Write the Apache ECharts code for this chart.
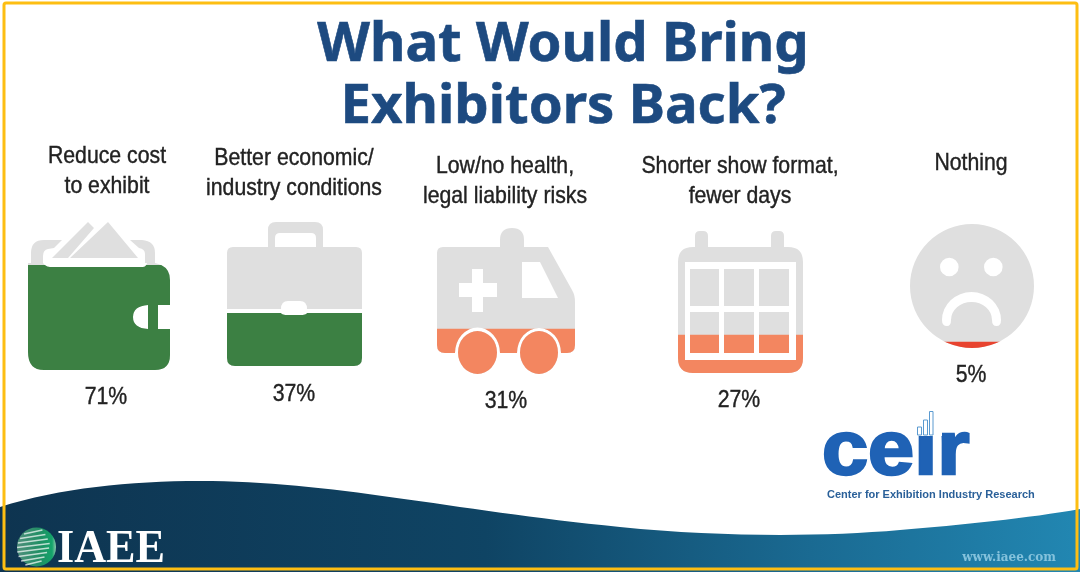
<!DOCTYPE html>
<html>
<head>
<meta charset="utf-8">
<style>html,body{margin:0;padding:0;background:#fff}#c{width:1080px;height:572px}</style>
<script src="https://cdn.jsdelivr.net/npm/echarts@6/dist/echarts.min.js"></script>
</head>
<body>
<div id="c"></div>
<script>
const headline = "What Would Bring\nExhibitors Back?";
const categories = ["Reduce cost\nto exhibit", "Better economic/\nindustry conditions", "Low/no health,\nlegal liability risks", "Shorter show format,\nfewer days", "Nothing"];
const values = [71, 37, 31, 27, 5];
const fillColors = ["#3c8043", "#3c8043", "#f38660", "#f38660", "#e8432f"];

// icon bounding boxes in the page: left, top, width, height
const boxes = [[28, 222, 142, 148], [227, 222, 135, 144], [437, 228, 138, 146], [678, 231, 125, 142], [910, 224, 124, 124]];
// centre x / middle y of the wrapped label, and of the percentage
const labelPos = [[107, 171], [294, 173], [505, 181], [740, 181], [971, 163]];
const pctPos = [[106, 397], [294, 394], [506, 401], [739, 400], [971, 375]];

const icons = [
  // wallet
  "M28 263L43 263Q46 267 50 267L143 267Q146 267 147 263L155 263Q170 266 170 280L170 305L158 305L158 329L170 329L170 355Q170 370 155 370L44 370Q28 370 28 352Z" +
  "M148 305Q133 306 133 317Q133 328 148 329Z" +
  "M31 263L31 253Q31 240 44 240L62 240L54 248L48 249Q43 250 43 256L43 263Z" +
  "M130 240L142 240Q155 241 155 253L155 263L145 263L145 254Q145 249 139 248Z" +
  "M52 258L88 222L94 228L68 258Z" +
  "M108 222L138 258L70 258Z",
  // briefcase
  "M233 247L268 247L268 230Q268 222 276 222L315 222Q323 222 323 230L323 247L356 247Q362 247 362 253L362 309L307 309Q307 301 300 301L288 301Q281 301 281 309L227 309L227 253Q227 247 233 247Z" +
  "M275 247L316 247L316 238Q316 233 311 233L280 233Q275 233 275 238Z" +
  "M227 313L281 313Q282 315 288 315L300 315Q306 315 307 313L362 313L362 358Q362 366 354 366L235 366Q227 366 227 358Z",
  // ambulance
  "M443 247L500 247L500 240Q500 228 512 228Q524 228 524 240L524 247L548 247L572 290Q575 295 575 302L575 345Q575 353 567 353L561 353A22 25 0 0 0 517 353L500 353A22 25 0 0 0 455 353L445 353Q437 353 437 345L437 253Q437 247 443 247Z" +
  "M522 262L522 298L558 298L540 262Z" +
  "M472 269L472 283L459 283L459 297L472 297L472 312L483 312L483 297L497 297L497 283L483 283L483 269Z" +
  "M458 352.5A19.5 21.5 0 0 1 497 352.5A19.5 21.5 0 0 1 458 352.5Z" +
  "M520 352.5A19 21.5 0 0 1 558 352.5A19 21.5 0 0 1 520 352.5Z",
  // calendar
  "M693 247L695 247L695 236Q695 231 700 231L703 231Q708 231 708 236L708 247L771 247L771 236Q771 231 776 231L779 231Q784 231 784 236L784 247L788 247Q803 247 803 262L803 358Q803 373 788 373L693 373Q678 373 678 358L678 262Q678 247 693 247Z" +
  "M685 262L685 360L796 360L796 262Z" +
  "M690 269L719 269L719 306L690 306Z M724 269L754 269L754 306L724 306Z M759 269L789 269L789 306L759 306Z" +
  "M690 312L719 312L719 353L690 353Z M724 312L754 312L754 353L724 353Z M759 312L789 312L789 353L759 353Z",
  // sad face
  "M910 286A62 62 0 0 1 1034 286A62 62 0 0 1 910 286Z" +
  "M940 267A9.3 9.3 0 0 0 958.6 267A9.3 9.3 0 0 0 940 267Z" +
  "M984 267A9.3 9.3 0 0 0 1002.6 267A9.3 9.3 0 0 0 984 267Z" +
  "M1001 320A29.5 28 0 0 0 942 320Q942 326 947 326Q951 326 951 320A20.5 18 0 0 1 992 320Q992 326 996.5 326Q1001 326 1001 320Z"
];

echarts.graphic.registerShape("wave", echarts.graphic.extendPath(
  "M0 507C60 488 130 481 200 481C330 481 450 510 620 527C720 537 820 537 900 530C960 525 1030 518 1080 509L1080 572L0 572Z",
  {}
));

const sans = '"Liberation Sans",sans-serif';
const grids = [], xAxes = [], yAxes = [], series = [];
const textEls = [];
const squeeze = 0.885;

categories.forEach((name, i) => {
  const b = boxes[i];
  grids.push({ left: b[0], top: b[1], width: b[2], height: b[3] });
  xAxes.push({ gridIndex: i, type: "category", data: [name], show: false });
  yAxes.push({ gridIndex: i, type: "value", min: 0, max: 100, show: false });
  textEls.push({
    type: "text", z: 10, x: labelPos[i][0], y: labelPos[i][1], scaleX: squeeze,
    style: { text: name, x: 0, y: 0, textAlign: "center", textVerticalAlign: "middle", fontFamily: sans, fontSize: 24, lineHeight: 30, fill: "#222", stroke: "#222", lineWidth: 0.4 }
  });
  textEls.push({
    type: "text", z: 10, x: pctPos[i][0], y: pctPos[i][1], scaleX: squeeze,
    style: { text: values[i] + "%", x: 0, y: 0, textAlign: "center", textVerticalAlign: "middle", fontFamily: sans, fontSize: 24, fill: "#222", stroke: "#222", lineWidth: 0.4 }
  });
  const common = {
    type: "pictorialBar", xAxisIndex: i, yAxisIndex: i, symbol: "path://" + icons[i],
    symbolSize: ["100%", "100%"], symbolPosition: "start", symbolBoundingData: 100,
    barWidth: "100%", silent: true, animation: false
  };
  series.push(Object.assign({}, common, {
    name: "track " + i, z: 2, data: [100], itemStyle: { color: "#dfdfdf" }
  }));
  series.push(Object.assign({}, common, {
    name: name, z: 3, symbolClip: true, data: [values[i]], itemStyle: { color: fillColors[i] }
  }));
});

const graphics = [
  { type: "wave", z: 0, style: { fill: new echarts.graphic.LinearGradient(0, 0, 1, 0, [
      { offset: 0, color: "#0e3450" }, { offset: 0.45, color: "#0f4464" }, { offset: 0.75, color: "#1a6a92" }, { offset: 1, color: "#2287b2" } ]) } },
  { type: "circle", z: 5, shape: { cx: 36.5, cy: 547, r: 19.5 },
    style: { fill: new echarts.graphic.LinearGradient(0, 0, 1, 0, [
      { offset: 0, color: "#4f8f7c" }, { offset: 0.6, color: "#1f8f64" }, { offset: 0.9, color: "#14a36a" }, { offset: 1, color: "#8fc7ae" } ]) } },
  { type: "text", z: 5, x: 57, y: 549.5, scaleX: 0.94, style: { text: "IAEE", x: 0, y: 0, textVerticalAlign: "middle", fontFamily: '"Liberation Serif",serif', fontWeight: 700, fontSize: 47, fill: "#fff" } },
  { type: "text", z: 5, style: { text: "www.iaee.com", x: 1056, y: 558, textAlign: "right", textVerticalAlign: "middle", fontFamily: '"DejaVu Serif",serif', fontWeight: 700, fontSize: 12, fill: "#84c2dc" } },
  { type: "text", z: 5, x: 822, y: 453, scaleX: 1.09, style: { text: "ceir", x: 0, y: 0, textVerticalAlign: "middle", fontFamily: sans, fontWeight: 700, fontSize: 76, fill: "#1f62b5", stroke: "#1f62b5", lineWidth: 2.5 } },
  { type: "rect", z: 6, shape: { x: 910, y: 402, width: 32, height: 34 }, style: { fill: "#fff" } },
  { type: "text", z: 5, style: { text: "Center for Exhibition Industry Research", x: 827, y: 494.5, textVerticalAlign: "middle", fontFamily: sans, fontWeight: 700, fontSize: 11, fill: "#2a6099" } },
  { type: "rect", z: 7, shape: { x: 917.5, y: 427, width: 4, height: 8 }, style: { fill: "#fff", stroke: "#5a9ad0", lineWidth: 1 } },
  { type: "rect", z: 7, shape: { x: 923.5, y: 420, width: 4, height: 15 }, style: { fill: "#fff", stroke: "#5a9ad0", lineWidth: 1 } },
  { type: "rect", z: 7, shape: { x: 929.5, y: 411.5, width: 3.5, height: 23.5 }, style: { fill: "#fff", stroke: "#5a9ad0", lineWidth: 1 } },
  { type: "rect", z: 50, shape: { x: 4, y: 3, width: 1073, height: 566, r: 2 }, style: { fill: "none", stroke: "#fdbe12", lineWidth: 3 } }
].concat(textEls);
// stripes across the globe
[-15, -10.5, -6, -1.5, 3, 7.5, 12, 16].forEach((d) => {
  const half = Math.sqrt(19.5 * 19.5 - d * d);
  graphics.push({ type: "line", z: 6, shape: { x1: 36.5 - half, y1: 547 + d + 2, x2: 36.5 + half * (0.7 - Math.abs(d) * 0.015), y2: 547 + d - 2 }, style: { stroke: "rgba(255,255,255,0.7)", lineWidth: 1.5 } });
});

const chart = echarts.init(document.getElementById("c"), null, { renderer: "canvas" });
chart.setOption({
  animation: false, backgroundColor: "#fff",
  title: { text: headline, left: 558, top: 9, textAlign: "center",
    textStyle: { fontFamily: '"Noto Sans",sans-serif', fontWeight: 700, fontSize: 54.5, lineHeight: 62, color: "#1d4a80", textBorderColor: "#1d4a80", textBorderWidth: 0.6 } },
  grid: grids, xAxis: xAxes, yAxis: yAxes, series: series,
  graphic: { elements: graphics }
});
</script>
</body>
</html>
